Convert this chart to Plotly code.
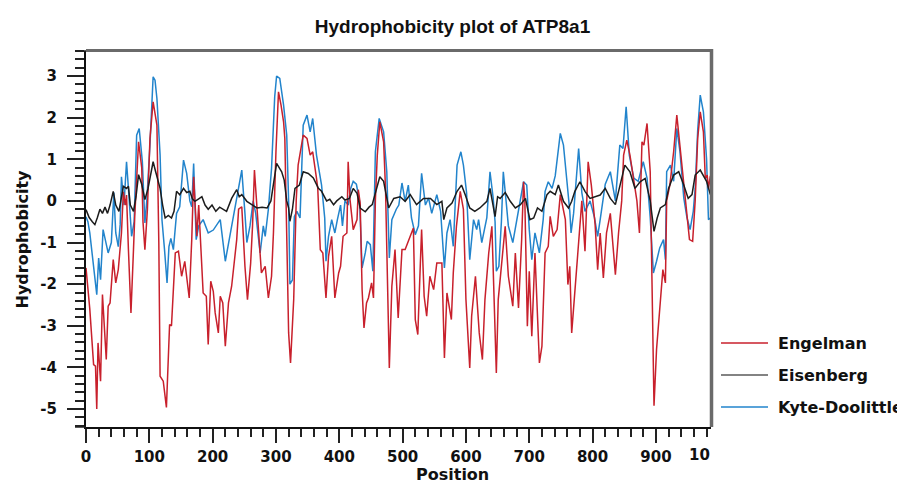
"""Hydrophobicity plot of ATP8a1: three scales along the sequence."""

import plotly.graph_objects as go

# ---- data (position, hydrophobicity) ----
engelman_pos = [
    0, 6, 12, 15, 17, 19, 23, 26, 32, 35, 38, 43, 47, 51, 56, 59, 62, 64, 67, 71,
    75, 77, 83, 88, 90, 93, 97, 101, 106, 112, 115, 117, 122, 127, 132, 135, 141, 146, 151, 156,
    163, 167, 170, 172, 175, 178, 181, 185, 190, 193, 197, 201, 204, 209, 212, 216, 220, 225, 230, 235,
    238, 241, 246, 251, 255, 260, 263, 266, 270, 272, 277, 283, 288, 293, 296, 300, 304, 308, 312, 314,
    317, 320, 323, 328, 332, 335, 343, 349, 354, 358, 364, 366, 370, 374, 379, 383, 388, 393, 399, 402,
    406, 412, 414, 417, 422, 428, 430, 433, 436, 439, 443, 446, 451, 454, 457, 460, 464, 470, 473, 476,
    479, 483, 488, 493, 499, 504, 512, 517, 520, 524, 528, 530, 534, 538, 543, 549, 554, 562, 566, 570,
    577, 580, 585, 591, 596, 600, 606, 609, 615, 621, 626, 630, 636, 641, 648, 651, 657, 662, 667, 674,
    678, 683, 688, 691, 693, 697, 700, 704, 709, 716, 720, 725, 730, 733, 738, 744, 749, 754, 757, 761,
    764, 767, 772, 778, 783, 788, 793, 798, 804, 808, 812, 817, 822, 828, 836, 841, 846, 849, 854, 859,
    865, 870, 874, 878, 881, 886, 891, 894, 897, 901, 906, 911, 915, 917, 922, 928, 933, 938, 944, 949,
    953, 958, 962, 966, 970, 975, 978, 981, 983, 986,
]
engelman_val = [
    -1.61, -2.6, -3.93, -3.97, -5.0, -3.41, -4.33, -2.25, -3.81, -2.53, -2.45, -1.41, -1.97, -1.65, -0.77, 0.22, -0.1, 0.14, -1.17, -2.69,
    -1.17, -0.37, 1.42, 0.8, -0.5, -1.17, -0.2, 1.5, 2.38, 1.82, -1.0, -4.21, -4.33, -4.96, -2.97, -3.0, -1.25, -1.21, -1.81, -1.45,
    -2.33, -0.93, 0.58, 0.1, -0.85, -0.1, -0.93, -2.21, -2.29, -3.45, -1.93, -2.17, -2.69, -3.17, -2.29, -2.45, -3.49, -2.45, -2.05, -1.29,
    -0.93, -0.2, -0.14, -1.57, -2.37, -1.5, -0.6, 0.74, -0.1, -0.61, -1.73, -1.57, -2.33, -1.81, -0.77, 1.2, 2.62, 2.3, 1.9, 1.5,
    -0.5, -3.17, -3.89, -2.37, 0.02, 0.86, 1.58, 1.5, 1.1, 1.18, 0.54, 0.3, -1.17, -1.25, -2.33, -1.33, -0.85, -2.33, -1.73, -1.57,
    -0.85, -0.77, 0.94, 0.02, -0.69, -0.45, 0.27, -0.06, -2.13, -3.05, -2.45, -2.33, -1.97, -2.33, 0.02, 1.1, 1.9, 1.42, 0.3, -1.89,
    -4.01, -2.05, -1.17, -2.81, -1.17, -1.17, -0.85, -0.65, -2.85, -3.21, -1.5, -0.69, -2.29, -2.77, -1.81, -2.13, -1.49, -1.49, -3.77, -2.21,
    -2.85, -1.73, -0.61, 0.23, -0.2, -2.37, -4.01, -2.77, -1.81, -3.17, -3.81, -2.37, -1.25, -0.61, -4.13, -2.37, -1.41, -0.61, -1.81, -2.53,
    -1.25, -2.57, -0.93, 0.46, 0.02, -3.01, -1.69, -3.25, -1.25, -3.89, -3.49, -1.25, -1.09, -0.37, -0.85, -0.69, 0.15, -0.25, -0.45, -2.01,
    -1.57, -3.17, -2.21, -1.17, 0.0, -1.21, 0.94, 0.38, -0.57, -1.65, -0.77, -1.85, -0.77, -0.3, -1.77, -0.77, 0.0, 1.1, 1.46, 1.1,
    0.54, 0.0, -0.77, 1.42, 1.34, 1.86, 0.7, -2.77, -4.92, -3.57, -2.61, -1.65, -1.97, 0.0, 0.38, 1.18, 2.06, 1.34, 0.54, -0.25,
    -0.93, -0.97, 0.0, 1.5, 2.14, 1.66, 0.54, 0.62, 0.3, 0.6,
]

eisenberg_pos = [
    0, 5, 10, 14, 18, 22, 26, 30, 34, 38, 43, 47, 52, 56, 59, 64, 67, 70, 75, 79,
    83, 88, 93, 98, 103, 106, 110, 114, 117, 121, 125, 130, 135, 139, 143, 148, 154, 159, 164, 168,
    172, 178, 183, 188, 193, 199, 205, 211, 216, 222, 230, 234, 238, 242, 246, 254, 262, 270, 278, 286,
    292, 296, 301, 305, 309, 313, 317, 320, 322, 326, 330, 337, 343, 351, 359, 367, 372, 380, 385, 391,
    396, 404, 409, 416, 422, 428, 433, 441, 447, 452, 457, 464, 470, 478, 486, 496, 504, 512, 522, 533,
    544, 554, 562, 565, 570, 578, 586, 593, 599, 606, 614, 622, 633, 638, 646, 650, 654, 662, 670, 678,
    686, 694, 701, 707, 713, 720, 728, 733, 741, 746, 754, 762, 767, 772, 780, 788, 796, 804, 812, 820,
    828, 836, 844, 851, 859, 867, 875, 883, 891, 897, 902, 907, 915, 920, 928, 936, 944, 951, 957, 962,
    970, 975, 980, 986,
]
eisenberg_val = [
    -0.21, -0.4, -0.5, -0.57, -0.4, -0.2, -0.3, -0.15, -0.3, -0.1, 0.23, -0.1, -0.25, 0.1, 0.35, 0.3, 0.35, -0.1, -0.25, 0.1,
    0.63, 0.4, 0.03, 0.3, 0.7, 0.94, 0.7, 0.5, 0.3, -0.1, -0.41, -0.35, -0.41, -0.25, 0.23, 0.15, 0.3, 0.2, 0.23, 0.05,
    -0.01, 0.05, 0.1, -0.1, -0.2, -0.1, -0.25, -0.15, -0.2, -0.25, 0.06, 0.15, 0.27, 0.1, 0.15, -0.01, -0.1, -0.17, -0.15, -0.17,
    0.0, 0.38, 0.9, 0.8, 0.7, 0.5, 0.0, -0.17, -0.49, -0.2, 0.3, 0.38, 0.7, 0.66, 0.55, 0.3, 0.23, 0.0, 0.04, -0.09,
    0.0, 0.1, 0.02, 0.06, 0.3, 0.18, -0.17, -0.26, -0.15, -0.09, 0.22, 0.58, 0.47, -0.17, 0.06, 0.1, -0.01, 0.15, -0.09, 0.06,
    0.06, -0.09, -0.01, -0.45, -0.17, -0.05, 0.23, 0.38, 0.14, -0.17, -0.25, -0.17, -0.01, 0.3, -0.38, 0.1, 0.06, 0.2, -0.01, -0.17,
    -0.09, 0.06, -0.45, -0.41, -0.17, -0.25, 0.15, 0.23, 0.15, 0.38, -0.01, -0.17, -0.01, 0.23, 0.46, 0.23, 0.06, 0.1, 0.14, 0.3,
    0.06, -0.09, 0.38, 0.86, 0.7, 0.3, 0.46, 0.54, 0.0, -0.73, -0.41, -0.17, -0.09, 0.3, 0.62, 0.7, 0.38, 0.06, 0.15, 0.62,
    0.74, 0.62, 0.47, 0.15,
]

kyte_pos = [
    0, 3, 6, 11, 17, 20, 23, 27, 32, 35, 40, 44, 47, 51, 54, 56, 60, 64, 67, 72,
    76, 80, 84, 89, 93, 96, 101, 106, 109, 112, 117, 120, 124, 128, 131, 134, 138, 143, 148, 154,
    159, 164, 167, 170, 174, 178, 185, 193, 201, 212, 220, 227, 232, 238, 241, 246, 251, 254, 259, 264,
    268, 275, 280, 283, 288, 293, 298, 301, 306, 312, 317, 320, 322, 326, 329, 333, 338, 343, 349, 354,
    358, 364, 372, 377, 379, 383, 388, 393, 397, 402, 405, 409, 414, 418, 422, 427, 432, 436, 441, 444,
    449, 453, 457, 463, 470, 475, 479, 483, 490, 494, 499, 504, 509, 514, 520, 525, 530, 536, 541, 546,
    554, 560, 566, 570, 575, 580, 583, 586, 592, 596, 601, 606, 612, 617, 620, 625, 633, 638, 643, 646,
    648, 652, 656, 659, 664, 667, 674, 680, 686, 691, 696, 700, 704, 709, 716, 722, 725, 730, 736, 741,
    749, 754, 759, 764, 766, 770, 778, 783, 788, 796, 803, 808, 812, 820, 828, 836, 843, 848, 853, 858,
    865, 872, 880, 886, 891, 896, 901, 906, 912, 915, 917, 923, 928, 933, 938, 944, 949, 954, 959, 962,
    966, 970, 975, 980, 983, 986,
]
kyte_val = [
    -0.38, -0.5, -0.77, -1.41, -2.25, -1.37, -1.89, -0.69, -1.0, -1.25, -1.0, 0.2, -0.77, -1.1, -0.57, 0.58, -0.1, 0.94, 0.3, -0.85,
    -0.5, 1.58, 1.74, 0.94, -0.53, 0.0, 1.34, 2.98, 2.9, 2.46, 1.1, -0.46, -1.17, -1.97, -1.1, -0.9, -1.17, -0.3, -0.14, 0.98,
    0.66, 0.0, -0.14, 0.9, -0.93, -0.6, -0.45, -0.77, -0.7, -0.45, -1.45, -0.85, -0.45, 0.0, 0.3, 0.74, -0.3, -1.0, -0.6, 0.0,
    -0.3, -1.25, -0.6, -0.85, -0.2, 0.78, 2.5, 3.0, 2.94, 2.3, 1.58, 0.0, -2.0, -1.9, -0.38, -0.25, -0.41, 1.82, 2.06, 1.66,
    1.98, 1.1, 0.38, -0.41, -1.45, -0.85, -0.45, -0.77, -0.45, -0.1, -0.6, 0.0, -0.1, 0.3, 0.47, 0.4, -0.01, -1.61, -1.25, -0.97,
    -1.05, -1.69, 1.18, 1.98, 1.66, 0.7, -1.37, -0.45, -0.2, -0.1, 0.43, -0.01, 0.38, -0.41, -0.81, -0.6, 0.66, -0.1, 0.07, -0.3,
    0.15, -0.25, -1.61, -0.77, -0.45, -1.09, -0.1, 0.86, 1.18, 0.86, 0.2, -1.41, -0.45, -0.69, -0.45, -1.0, -0.4, 0.7, 0.07, -0.5,
    -1.69, -1.57, -0.5, 0.7, -0.1, -0.6, -1.0, -0.45, 0.0, 0.46, 0.38, -0.69, -1.41, -0.77, -1.25, -0.45, 0.23, 0.46, 0.3, 0.6,
    1.62, 1.34, 0.55, -0.25, -0.77, -0.3, 1.26, 0.2, -0.25, 0.0, -0.4, -0.85, -0.45, 0.4, 0.7, 0.0, 1.34, 1.26, 2.26, 1.1,
    0.55, 0.47, 0.94, 0.55, -0.4, -1.73, -1.45, -1.13, -0.93, -1.41, 0.7, 0.86, 0.47, 1.74, 1.18, 0.07, -0.4, -0.69, -0.25, 0.3,
    1.7, 2.54, 2.14, 1.0, -0.45, -0.41,
]

series = [
    ("Engelman", engelman_pos, engelman_val, "#c8202c"),
    ("Eisenberg", eisenberg_pos, eisenberg_val, "#1c1c1c"),
    ("Kyte-Doolittle", kyte_pos, kyte_val, "#2284cc"),
]

x_ticks = list(range(0, 1000, 100))
y_ticks = list(range(-5, 4))
y_tick_text = [str(v) for v in y_ticks]

# ---- geometry ----
# The page body keeps the browser's default 8px margin, so the figure is
# drawn 8px smaller and every reference pixel position is shifted by 8.
PAGE_OFF = 8
W, H = 905 - PAGE_OFF, 483 - PAGE_OFF
PLOT_L, PLOT_R, PLOT_T, PLOT_B = 86, 711, 51, 427  # reference pixels
M_L, M_T = PLOT_L - PAGE_OFF, PLOT_T - PAGE_OFF
M_R, M_B = W - (PLOT_R - PAGE_OFF), H - (PLOT_B - PAGE_OFF)
PLOT_W = PLOT_R - PLOT_L
PLOT_H = PLOT_B - PLOT_T


def px_to_paper(px, py):
    """Reference-image pixel -> paper coordinates of the plot area."""
    return (px - PLOT_L) / PLOT_W, (PLOT_B - py) / PLOT_H


BOLD = "DejaVu Sans"
INK = "#111111"
FRAME_GREY = "#6a6a6a"

fig = go.Figure()

# Blue drawn first so red and black sit on top, like the reference.
for name, pos, val, colour in [series[2], series[0], series[1]]:
    fig.add_trace(
        go.Scatter(
            x=pos,
            y=val,
            mode="lines",
            name=name,
            line=dict(color=colour, width=1.5),
            showlegend=False,
        )
    )

# Hand-made legend so the sample lines match the reference length.
legend_rows = [343, 375, 407]
for (name, _, _, colour), py in zip(series, legend_rows):
    x0, y0 = px_to_paper(721, py)
    x1, _ = px_to_paper(768, py)
    fig.add_shape(
        type="line", xref="paper", yref="paper",
        x0=x0, x1=x1, y0=y0, y1=y0,
        line=dict(color=colour if name != "Eisenberg" else "#5a5a5a", width=1.5),
    )
    tx, _ = px_to_paper(776, py)
    fig.add_annotation(
        xref="paper", yref="paper", x=tx, y=y0,
        xanchor="left", yanchor="middle", showarrow=False,
        text=name, font=dict(family=BOLD, size=16, color=INK, weight="bold"),
    )

# Axis titles, placed where the reference has them (centred on the page).
ax, ay = px_to_paper(452.5, 474)
fig.add_annotation(
    xref="paper", yref="paper", x=ax, y=ay,
    xanchor="center", yanchor="middle", showarrow=False, borderpad=0,
    text="Position", font=dict(family=BOLD, size=16, color=INK, weight="bold"),
)
ax, ay = px_to_paper(21.5, 239)
fig.add_annotation(
    xref="paper", yref="paper", x=ax, y=ay, textangle=-90,
    xanchor="center", yanchor="middle", showarrow=False,
    text="Hydrophobicity", font=dict(family=BOLD, size=16, color=INK, weight="bold"),
)

# Clipped "1000" label at the right end of the x axis.
cx, cy = px_to_paper(712, 455)
fig.add_annotation(
    xref="paper", yref="paper", x=cx, y=cy,
    xanchor="right", yanchor="middle", showarrow=False,
    text="10", font=dict(family=BOLD, size=15, color=INK, weight="bold"),
)

# Grey top and right frame edges, as in the reference.
frame_edges = [((86, 50.5), (713, 50.5), 3), ((711.5, 49), (711.5, 427), 3.5)]
for (xa, ya), (xb, yb), lw in frame_edges:
    pa = px_to_paper(xa, ya)
    pb = px_to_paper(xb, yb)
    fig.add_shape(
        type="line", xref="paper", yref="paper",
        x0=pa[0], y0=pa[1], x1=pb[0], y1=pb[1],
        line=dict(color=FRAME_GREY, width=lw),
    )

# Axis-line stubs that poke past the frame corners in the reference.
for (xa, ya), (xb, yb) in [((75, 427), (86, 427)), ((81, 51), (86, 51))]:
    pa = px_to_paper(xa, ya)
    pb = px_to_paper(xb, yb)
    fig.add_shape(
        type="line", xref="paper", yref="paper",
        x0=pa[0], y0=pa[1], x1=pb[0], y1=pb[1],
        line=dict(color="#222", width=1.5),
    )

axis_common = dict(
    tickmode="array",
    ticks="outside",
    tickwidth=1.5,
    tickcolor="#222",
    showgrid=False,
    zeroline=False,
    showline=True,
    linecolor="#111",
    linewidth=2,
    mirror=False,
    automargin=False,
    tickfont=dict(family=BOLD, size=15, color=INK, weight="bold"),
)

fig.update_layout(
    width=W,
    height=H,
    margin=dict(l=M_L, r=M_R, t=M_T, b=M_B, pad=0),
    paper_bgcolor="white",
    plot_bgcolor="white",
    title=dict(
        text="Hydrophobicity plot of ATP8a1",
        x=(452.5 - PAGE_OFF) / W,
        xanchor="center",
        y=1 - (26 - PAGE_OFF) / H,
        yanchor="middle",
        font=dict(family="Liberation Sans", size=19, color=INK, weight="bold"),
    ),
    xaxis=dict(
        axis_common,
        range=[0, 987],
        tickvals=x_ticks,
        ticklen=14,
        ticklabelstandoff=1,
        minor=dict(dtick=20, ticks="outside", ticklen=8, tickcolor="#222", tickwidth=1.5),
    ),
    yaxis=dict(
        axis_common,
        range=[-5.43, 3.6],
        tickvals=y_ticks,
        ticktext=y_tick_text,
        ticklen=17,
        ticklabelstandoff=7,
        minor=dict(dtick=0.2, ticks="outside", ticklen=9, tickcolor="#222", tickwidth=1.5),
    ),
)

fig.write_html("out.html")
